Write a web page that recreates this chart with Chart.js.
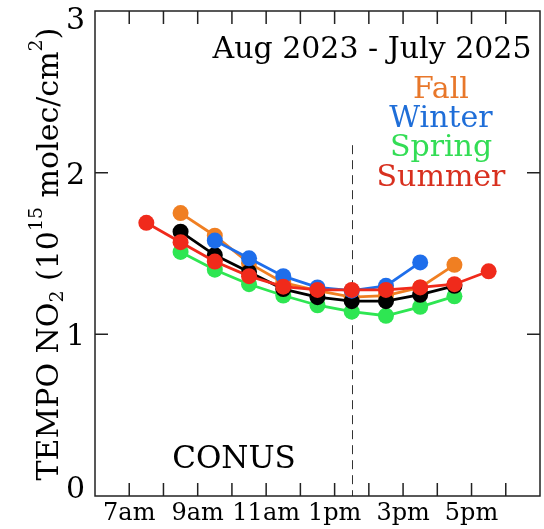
<!DOCTYPE html>
<html>
<head>
<meta charset="utf-8">
<script src="https://cdn.jsdelivr.net/npm/chart.js@4.4.0/dist/chart.umd.min.js"></script>
<style>
  html, body { margin: 0; padding: 0; background: #fff; overflow: hidden; }
  #wrap { width: 548px; height: 529px; }
</style>
</head>
<body>
<div id="wrap"><canvas id="no2Chart"></canvas></div>
<script>
// local hour of each TEMPO scan (half past the hour)
const hours = [7.5, 8.5, 9.5, 10.5, 11.5, 12.5, 13.5, 14.5, 15.5, 16.5, 17.5];

// NO2 column, 10^15 molec/cm2 (null = no scan)
const fall      = [null, 1.75, 1.61, 1.44, 1.32, 1.27, 1.23, 1.24, 1.29, 1.43, null];
const winter    = [null, null, 1.58, 1.47, 1.36, 1.29, 1.27, 1.30, 1.445, null, null];
const spring    = [null, 1.51, 1.40, 1.31, 1.24, 1.18, 1.14, 1.115, 1.17, 1.235, null];
const summer    = [1.69, 1.57, 1.45, 1.36, 1.295, 1.275, 1.275, 1.275, 1.29, 1.31, 1.39];
const allYear   = [null, 1.635, 1.49, 1.385, 1.28, 1.23, 1.205, 1.205, 1.245, 1.30, null];

const tickHours  = [7, 9, 11, 13, 15, 17];
const tickLabels = ['7am', '9am', '11am', '1pm', '3pm', '5pm'];
const yTickValues = [0, 1, 2, 3];

const noonHour = 13.5;      // dashed marker
const noonLineTop = 2.17;

const serif = '"DejaVu Serif", "Liberation Serif", serif';

function toPoints(arr) {
    return hours.map((h, i) => ({ x: h, y: arr[i] }));
}

function series(label, arr, color) {
    return {
        label: label,
        data: toPoints(arr),
        borderColor: color,
        backgroundColor: color,
        pointBackgroundColor: color,
        pointBorderColor: color,
        borderWidth: 2.8,
        pointRadius: 8,
        pointBorderWidth: 0,
        pointHoverRadius: 8,
        tension: 0,
        spanGaps: false
    };
}

// draws the box, inward ticks, y labels and all the text
const framePlugin = {
    id: 'frame',
    beforeDatasetsDraw(chart) {
        const ctx = chart.ctx;
        const a = chart.chartArea;
        const x = chart.scales.x, y = chart.scales.y;
        const px = Math.round(x.getPixelForValue(noonHour)) + 0.5;
        ctx.save();
        ctx.strokeStyle = '#333';
        ctx.lineWidth = 1;
        ctx.setLineDash([9, 6]);
        ctx.beginPath();
        ctx.moveTo(px, y.getPixelForValue(noonLineTop));
        ctx.lineTo(px, a.bottom);
        ctx.stroke();
        ctx.restore();
    },
    afterDraw(chart) {
        const ctx = chart.ctx;
        const a = chart.chartArea;
        const x = chart.scales.x, y = chart.scales.y;
        const tl = 13;

        ctx.save();
        ctx.strokeStyle = '#222';
        ctx.lineWidth = 1.5;
        ctx.strokeRect(a.left, a.top, a.right - a.left, a.bottom - a.top);

        ctx.beginPath();
        x.ticks.forEach(t => {
            if (t.value <= x.min || t.value >= x.max) return;
            const px = x.getPixelForValue(t.value);
            ctx.moveTo(px, a.bottom); ctx.lineTo(px, a.bottom - tl);
            ctx.moveTo(px, a.top); ctx.lineTo(px, a.top + tl);
        });
        y.ticks.forEach(t => {
            if (t.value <= y.min || t.value >= y.max) return;
            const py = y.getPixelForValue(t.value);
            ctx.moveTo(a.left, py); ctx.lineTo(a.left + tl, py);
            ctx.moveTo(a.right, py); ctx.lineTo(a.right - tl, py);
        });
        ctx.stroke();

        // y tick labels, kept inside the axis range like the original
        ctx.fillStyle = '#000';
        ctx.font = '30px ' + serif;
        ctx.textAlign = 'right';
        ctx.textBaseline = 'alphabetic';
        yTickValues.forEach(v => {
            const py = y.getPixelForValue(v);
            const base = Math.min(Math.max(py + 11, a.top + 17.5), a.bottom + 1.5);
            ctx.fillText(String(v), a.left - 10, base);
        });

        // titles
        ctx.textAlign = 'center';
        ctx.font = '30px ' + serif;
        ctx.fillText('Aug 2023 - July 2025', 372, 58);

        const legend = [
            ['Fall', '#E8772A', 98],
            ['Winter', '#1F6ED8', 127],
            ['Spring', '#33DD55', 156],
            ['Summer', '#D8301F', 185.5]
        ];
        legend.forEach(l => {
            ctx.fillStyle = l[1];
            ctx.fillText(l[0], 441, l[2]);
        });

        ctx.fillStyle = '#000';
        ctx.font = '31px ' + serif;
        ctx.fillText('CONUS', 234, 468);

        // y axis title with sub/superscripts
        const parts = [
            ['TEMPO NO', 0], ['2', -1], [' (10', 0], ['15', 1],
            [' molec/cm', 0], ['2', 1], [')', 0]
        ];
        const big = '30px ' + serif, small = '19px ' + serif;
        let total = 0;
        parts.forEach(p => {
            ctx.font = p[1] === 0 ? big : small;
            total += ctx.measureText(p[0]).width;
        });
        ctx.translate(58, 254);
        ctx.rotate(-Math.PI / 2);
        ctx.textAlign = 'left';
        let cx = -total / 2;
        parts.forEach(p => {
            ctx.font = p[1] === 0 ? big : small;
            const dy = p[1] === 1 ? -16 : (p[1] === -1 ? 5 : 0);
            ctx.fillText(p[0], cx, dy);
            cx += ctx.measureText(p[0]).width;
        });
        ctx.restore();
    }
};

const ctx = document.getElementById('no2Chart').getContext('2d');
const chart = new Chart(ctx, {
    type: 'line',
    data: {
        // first dataset is drawn on top
        datasets: [
            series('Summer', summer, '#F02A1B'),
            series('Winter', winter, '#1E6EEB'),
            series('All', allYear, '#000000'),
            series('Fall', fall, '#F07F22'),
            series('Spring', spring, '#2EE652')
        ]
    },
    options: {
        responsive: true,
        maintainAspectRatio: false,
        animation: false,
        layout: { padding: { left: 0, right: 3, top: 11, bottom: 0 } },
        plugins: {
            legend: { display: false },
            tooltip: { enabled: false }
        },
        scales: {
            x: {
                type: 'linear',
                min: 6,
                max: 19,
                grid: { display: false, drawTicks: false },
                border: { display: false },
                ticks: {
                    stepSize: 1,
                    autoSkip: false,
                    maxRotation: 0,
                    padding: 3,
                    color: '#000',
                    font: { family: serif, size: 24 },
                    callback: v => {
                        const i = tickHours.indexOf(v);
                        return i >= 0 ? tickLabels[i] : '';
                    }
                },
                afterFit: s => { s.height = 33; }
            },
            y: {
                min: 0,
                max: 3,
                grid: { display: false, drawTicks: false },
                border: { display: false },
                ticks: { stepSize: 1, display: false },
                afterFit: s => { s.width = 95; }
            }
        }
    },
    plugins: [framePlugin]
});
</script>
</body>
</html>
